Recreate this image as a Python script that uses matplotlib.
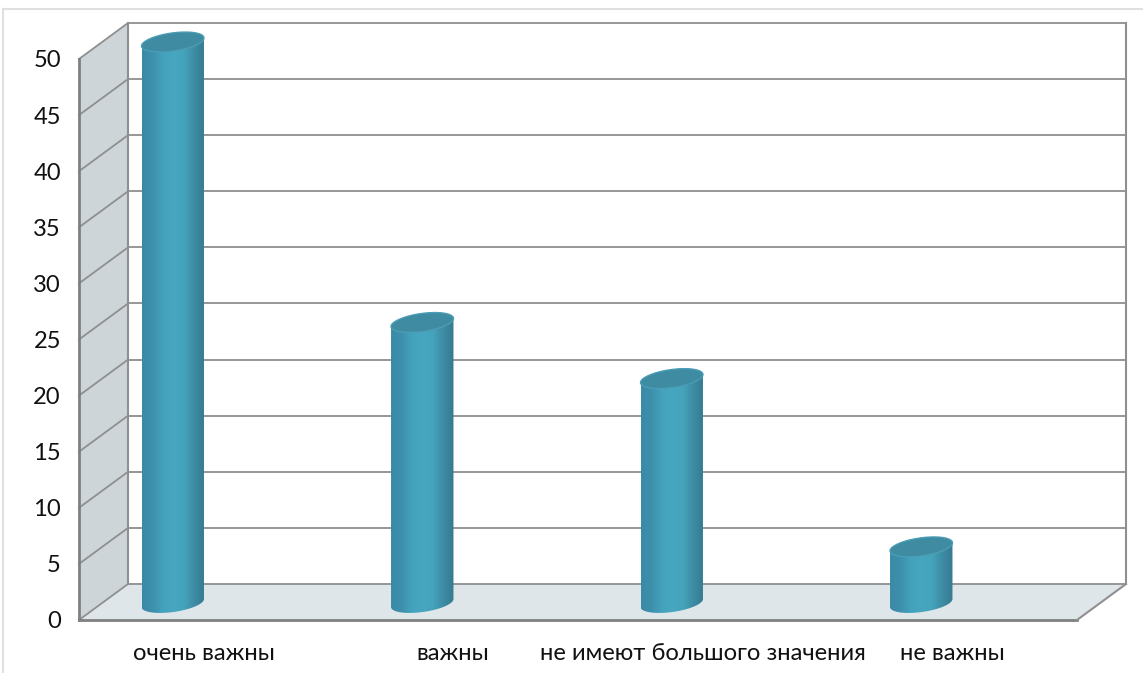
import numpy as np
import matplotlib.pyplot as plt
from matplotlib.lines import Line2D
from matplotlib.patches import Polygon
from matplotlib.colors import LinearSegmentedColormap

categories = ['очень важны', 'важны', 'не имеют большого значения', 'не важны']
values = [50, 25, 20, 5]
y_ticks = [0, 5, 10, 15, 20, 25, 30, 35, 40, 45, 50]

plt.rcParams['font.family'] = ['Lato', 'Open Sans', 'DejaVu Sans']

W, H = 1143, 673
fig = plt.figure(figsize=(W / 100, H / 100), dpi=100, facecolor='white')
# front plane of the 3d box, in pixels: x 79..1077, y 620..59
ax = fig.add_axes([79 / W, 1 - 620 / H, 998 / W, 561 / H])
ax.patch.set_alpha(0)
for s in ax.spines.values():
    s.set_visible(False)

sx = len(categories) / 998  # data units per pixel
sy = 50 / 561
depth_x = 49 * sx
depth_y = 36 * sy

line_col = '#8f8f8f'
wall_col = '#cdd5d9'
floor_col = '#dfe6e9'

ax.add_patch(Polygon([(0, 0), (depth_x, depth_y), (depth_x, 50 + depth_y), (0, 50)],
                     closed=True, fc=wall_col, ec='none', clip_on=False, zorder=1))
ax.add_patch(Polygon([(0, 0), (depth_x, depth_y), (4 + depth_x, depth_y), (4, 0)],
                     closed=True, fc=floor_col, ec='none', clip_on=False, zorder=1))

for t in y_ticks:
    ax.plot([0, depth_x], [t, t + depth_y], color=line_col, lw=1.3, clip_on=False, zorder=2)
    ax.plot([depth_x, 4 + depth_x], [t + depth_y, t + depth_y], color=line_col, lw=1.3,
            clip_on=False, zorder=2)
ax.plot([depth_x, depth_x], [depth_y, 50 + depth_y], color=line_col, lw=1.5, clip_on=False, zorder=2)
ax.plot([4 + depth_x, 4 + depth_x], [depth_y, 50 + depth_y], color=line_col, lw=1.5, clip_on=False, zorder=2)
ax.plot([0, 0], [0, 50], color='#808080', lw=2, clip_on=False, zorder=2)
ax.plot([0, 4], [0, 0], color='#808080', lw=2, clip_on=False, zorder=2)
ax.plot([4, 4 + depth_x], [0, depth_y], color=line_col, lw=1.5, clip_on=False, zorder=2)

ax.set_yticks(y_ticks)
ax.set_xticks(np.arange(len(categories)) + 0.5)
ax.set_xticklabels(categories)
ax.tick_params(axis='both', length=0, labelsize=17.1, labelcolor='#111111')
ax.tick_params(axis='x', pad=16.5)
ax.tick_params(axis='y', pad=13)

body_cmap = LinearSegmentedColormap.from_list(
    'body', ['#3a8aa6', '#3d90ac', '#44a2bc', '#47a6c0', '#45a3bc', '#3d8ca4', '#367a90'])
gradient = np.linspace(0, 1, 256).reshape(1, -1)

# tilted ellipse of the cylinder caps, in pixels
a, b = 31.5, 9
tilt = np.deg2rad(8)


def ellipse(t):
    return (a * np.cos(t) * np.cos(tilt) - b * np.sin(t) * np.sin(tilt),
            a * np.cos(t) * np.sin(tilt) + b * np.sin(t) * np.cos(tilt))


t_right = np.arctan2(-b * np.sin(tilt), a * np.cos(tilt))
upper_t = np.linspace(t_right, t_right + np.pi, 100)
lower_t = np.linspace(t_right + np.pi, t_right + 2 * np.pi, 100)
half_w = ellipse(t_right)[0]
shift_x = -31
shift_y = 17

for i, val in enumerate(values):
    cx = i + 0.5 + shift_x * sx
    base = shift_y * sy
    up_x, up_y = ellipse(upper_t)
    lo_x, lo_y = ellipse(lower_t)
    outline = np.vstack([
        np.column_stack([cx + up_x * sx, base + val + up_y * sy]),
        np.column_stack([cx + lo_x * sx, base + lo_y * sy]),
    ])
    im = ax.imshow(gradient, cmap=body_cmap, aspect='auto', zorder=3,
                   extent=[cx - half_w * sx, cx + half_w * sx, base - 12 * sy, base + val + 12 * sy])
    im.set_clip_box(fig.bbox)  # tallest bar sticks out above the front plane
    im.set_clip_path(Polygon(outline, closed=True, transform=ax.transData))

    ell_x, ell_y = ellipse(np.linspace(0, 2 * np.pi, 200))
    ax.add_patch(Polygon(np.column_stack([cx + ell_x * sx, base + val + ell_y * sy]),
                         closed=True, fc='#3e8ba2', ec='#4a9db5', lw=1, clip_on=False, zorder=4))

ax.set_xlim(0, len(categories))
ax.set_ylim(0, 50)

# thin frame round the picture
fig.add_artist(Line2D([3 / W, 3 / W], [0, 1 - 9 / H], color='#e0e0e0', lw=1.5))
fig.add_artist(Line2D([3 / W, 1], [1 - 9 / H, 1 - 9 / H], color='#e0e0e0', lw=1.5))

fig.savefig('out.png', dpi=100)
